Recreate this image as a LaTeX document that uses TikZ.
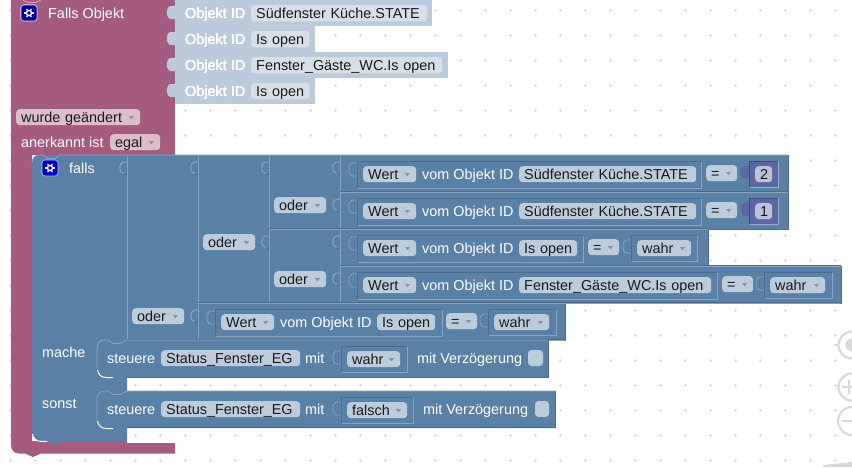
\documentclass[tikz,border=0pt]{standalone}
\usepackage{fontspec}
\setmainfont{Liberation Sans}
\definecolor{purp}{HTML}{A55B80}
\definecolor{purpl}{HTML}{DBBDCC}
\definecolor{blu}{HTML}{5B80A5}
\definecolor{blul}{HTML}{BDCCDB}
\definecolor{blue2}{HTML}{87A3BF}
\definecolor{bluD}{HTML}{4B6B8F}
\definecolor{indi}{HTML}{5B67A5}
\definecolor{indil}{HTML}{BDC2DB}
\definecolor{idcol}{HTML}{BCCBDB}
\definecolor{gridc}{HTML}{DADADA}
\definecolor{ctl}{HTML}{D9D9D9}
\newcounter{nn}
\tikzset{
  fieldbox/.style={fill=blul,rounded corners=3.5pt,inner xsep=5pt,inner ysep=0pt,anchor=north west,
    text=black!90,align=left,text height=13pt,text depth=3pt},
  lab/.style={text=white,inner sep=0pt,anchor=base west},
}
% field: x1,y1,x2,text,fill
\newcommand{\fld}[5]{\stepcounter{nn}\pgfmathsetmacro\fw{(#3)-(#1)-10}%
  \node[fieldbox,fill=#5,text width=\fw pt] (f\thenn) at (#1,#2) {\mbox{#4}};}
\newcommand{\ddf}[5][blul]{\fld{#2}{#3}{#4}{#5}{#1}%
  \pgfmathsetmacro\tx{(#4)-8.5}\pgfmathsetmacro\ty{(#3)+7}%
  \fill[gray!75!#1] (\tx-2.7,\ty) -- (\tx+2.7,\ty) -- (\tx,\ty+3.2) -- cycle;}
\newcommand{\lbl}[3]{\stepcounter{nn}\node[lab] (t\thenn) at (#1,#2) {#3};}
% socket outline tab: right x, top y
\newcommand{\socket}[2]{\draw[draw=blue2,line width=1pt] (#1,#2) -- (#1-3,#2) .. controls (#1-8.5,#2) and (#1-8.5,#2+11) .. (#1-4,#2+11) -- (#1-3,#2+11);
  \draw[draw=bluD,line width=.7pt] (#1,#2+12) -- (#1-3,#2+12);}
% filled tab of a child
\newcommand{\tabf}[3]{\fill[#3] (#1+.5,#2) -- (#1-4,#2) .. controls (#1-9.5,#2) and (#1-9.5,#2+13) .. (#1-4,#2+13) -- (#1+.5,#2+13) -- cycle;}
% inner block with frame
\newcommand{\inner}[5][blu]{\fill[#1] (#2,#3) rectangle (#4,#5);
  \draw[bluD,line width=.8pt] (#2,#5) -- (#2,#3) -- (#4,#3);
  \draw[blue2,line width=.9pt] (#2+.8,#5) -- (#4,#5) -- (#4,#3+.5);}
\newcommand{\wertrow}[8]{%
  \pgfmathsetmacro\xa{#1}\pgfmathsetmacro\ya{#2}%
  \tabf{\xa}{\ya+8}{blu}%
  \draw[blue2,line width=.8pt] (\xa,\ya+8) -- (\xa-4,\ya+8) .. controls (\xa-9.5,\ya+8) and (\xa-9.5,\ya+21) .. (\xa-4,\ya+21) -- (\xa,\ya+21);
  \inner{\xa}{\ya+6}{#5}{\ya+33}%
  \ddf{\xa+6}{\ya+11}{\xa+59}{Wert}%
  \lbl{\xa+65}{\ya+24}{vom Objekt ID}%
  \pgfmathsetmacro\xb{\xa+162}%
  \fld{\xb}{\ya+11}{#3}{#4}{blul}%
  \pgfmathsetmacro\xc{#6+31}%
  \ddf{#6}{\ya+10}{\xc}{=}%
}
\newcommand{\boolv}[5]{%
  \pgfmathsetmacro\xq{#1}\pgfmathsetmacro\yq{#2}%
  \tabf{\xq}{\yq+5}{blu}%
  \draw[blue2,line width=.8pt] (\xq,\yq+5) -- (\xq-4,\yq+5) .. controls (\xq-9.5,\yq+5) and (\xq-9.5,\yq+18) .. (\xq-4,\yq+18) -- (\xq,\yq+18);
  \inner{\xq}{\yq}{#3}{\yq+26}%
  \ddf{\xq+6}{\yq+5}{#4}{#5}%
}
\newcommand{\numv}[3]{%
  \tabf{749}{#1+5}{indi}%
  \fill[indi] (749,#1) rectangle (778,#1+26);
  \draw[indi!70!black,line width=.8pt] (749,#1+26) -- (749,#1) -- (778,#1);
  \draw[indil!70!indi,line width=.9pt] (749.8,#1+26) -- (778,#1+26) -- (778,#1);
  \stepcounter{nn}\node[fieldbox,fill=#3,text width=7pt,anchor=north west] (n\thenn) at (755,#1+5) {\mbox{#2}};
}
\begin{document}
\begin{tikzpicture}[x=1pt,y=-1pt,font=\fontsize{14.4}{16}\selectfont]
\clip (0,0) rectangle (852,467);
\fill[white] (0,0) rectangle (852,467);
% grid
\foreach \gx in {10,35,...,860} \foreach \gy in {10,35,...,460}
  \draw[gridc,line width=.5pt] (\gx-1.5,\gy) -- (\gx+1.5,\gy) (\gx,\gy-1.5) -- (\gx,\gy+1.5);
% zoom controls & trash
\begin{scope}[draw=ctl,line width=2.2pt]
  \draw[fill=white] (852,345) circle (13.5);
  \fill[ctl] (852,345) circle (6.5);
  \draw (838,345) -- (834,345);
  \draw[fill=white] (852,387) circle (13.5);
  \draw (842,387) -- (852,387) (849,380) -- (849,394);
  \draw[fill=white] (852,421) circle (14);
  \draw (842,421) -- (852,421);
\end{scope}
\fill[ctl] (823,465) -- (852,462) -- (852,467) -- (823,467) -- cycle;
% purple block
\fill[purp] (11,0) -- (175,0) -- (175,155) -- (32,155) -- (32,441) -- (127,441) -- (127,443) -- (175,443) -- (175,453.5) -- (41,453.5) -- (33,457) -- (25,453.5) -- (19,453.5) .. controls (14,453.5) and (11,450) .. (11,445) -- cycle;
\draw[purp!55!white,line width=.7pt] (23,0) -- (28,2.5) -- (36,2.5) -- (41,0);
% id blocks
\fill[idcol] (175,0) rectangle (432,26);
\fill[idcol] (175,26) rectangle (315,52);
\fill[idcol] (175,52) rectangle (448,78);
\fill[idcol] (175,78) rectangle (315,104);
\foreach \ty in {6,32,58,84} \tabf{175}{\ty}{idcol}
\lbl{185}{18}{Objekt ID}\fld{251}{5}{427}{Südfenster Küche.STATE}{blul!60!white}
\lbl{185}{44}{Objekt ID}\fld{251}{31}{309}{Is open}{blul!60!white}
\lbl{185}{70}{Objekt ID}\fld{251}{57}{442}{Fenster\_Gäste\_WC.Is open}{blul!60!white}
\lbl{185}{96}{Objekt ID}\fld{251}{83}{309}{Is open}{blul!60!white}
% purple contents
\fill[blue!55!black!80!blue,rounded corners=3pt,draw=purpl,line width=.6pt] (21,5) rectangle (37,21);
\draw[white,line width=1.4pt] (29,13) circle (2.6);
\foreach \a in {0,60,...,300} \draw[white,line width=1.2pt] (29,13) ++(\a:3.2) -- ++(\a:1.6);
\lbl{48}{18}{Falls Objekt}
\ddf[purpl]{16}{109}{140}{wurde geändert}
\lbl{21}{147}{anerkannt ist}
\ddf[purpl]{110}{134}{160}{egal}
% falls block
\fill[blu] (40,155) -- (788,155) -- (788,229) -- (708,229) -- (708,266) -- (841,266) -- (841,303) -- (565.5,303) -- (565.5,340) -- (548,340) -- (548,377) -- (127,377) -- (127,391) -- (555,391) -- (555,427.5) -- (127,427.5) -- (127,441) -- (62,441) -- (55,445) -- (48,441) -- (40,441) .. controls (35,441) and (32,438) .. (32,433) -- (32,163) .. controls (32,158) and (35,155) .. (40,155) -- cycle;
\draw[blue2,line width=.8pt] (32,163) .. controls (32,158) and (35,155) .. (40,155) -- (43,155) -- (48,158.5) -- (55,158.5) -- (60,155) -- (788,155);
\draw[bluD,line width=.8pt] (788,155) -- (788,229) -- (708,229) -- (708,266) -- (841,266) -- (841,303) -- (565.5,303) -- (565.5,340) -- (548,340) -- (548,377) -- (127,377);
\draw[bluD,line width=.8pt] (127,391) -- (555,391) -- (555,427.5) -- (127,427.5);
\draw[white,line width=1pt] (32.6,434) .. controls (33,438) and (36,441.4) .. (41,441.4) -- (47,441.4);
% internal separators
\foreach \lx/\ya/\yb in {127/155/340,198/155/340,269/155/303,340/155/303}
  \draw[blue2,line width=.9pt] (\lx,\ya) -- (\lx,\yb);
\foreach \xa/\xb/\yy in {340/788/192,269/708/229,340/841/266,198/841/303,127/565/340}
  {\draw[bluD,line width=.7pt] (\xa,\yy-.8) -- (\xb,\yy-.8);
   \draw[blue2,line width=.7pt] (\xa,\yy) -- (\xb,\yy);}
% sockets
\socket{127}{162}\socket{198}{162}\socket{269}{162}\socket{340}{162}
\socket{340}{199}\socket{269}{236}\socket{340}{236}\socket{340}{273}\socket{198}{310}
% falls
\fill[blue!75!black!85!blue,rounded corners=3pt,draw=blul,line width=.6pt] (42,160) rectangle (58,176);
\draw[white,line width=1.4pt] (50,168) circle (2.6);
\foreach \a in {0,60,...,300} \draw[white,line width=1.2pt] (50,168) ++(\a:3.2) -- ++(\a:1.6);
\lbl{69}{173}{falls}
\ddf{274}{197}{326}{oder}
\ddf{203}{234}{255}{oder}
\ddf{274}{271}{326}{oder}
\ddf{132}{308}{184}{oder}
% rows
\wertrow{357}{155}{696}{Südfenster Küche.STATE}{701}{706}{749}{778}
\numv{161}{2}{indil}
\wertrow{357}{192}{696}{Südfenster Küche.STATE}{701}{706}{749}{778}
\numv{198}{1}{indil}
\wertrow{357}{229}{577}{Is open}{583}{588}{631}{697}
\boolv{631}{235}{697}{691}{wahr}
\wertrow{357}{266}{711}{Fenster\_Gäste\_WC.Is open}{717}{722}{764}{832}
\boolv{764}{272}{832}{825}{wahr}
\wertrow{215}{303}{435}{Is open}{442}{446}{488}{556}
\boolv{488}{309}{556}{549}{wahr}
% statements
\foreach \sy/\se in {340/548,391/555}{
  \fill[blu] (97,\sy+8) .. controls (97,\sy+3) and (100,\sy) .. (105,\sy) -- (\se,\sy) -- (\se,\sy+37) -- (127,\sy+37) -- (120,\sy+41) -- (113,\sy+37) -- (105,\sy+37) .. controls (100,\sy+37) and (97,\sy+34) .. (97,\sy+29) -- cycle;
  \draw[blue2,line width=.8pt] (97,\sy+29) -- (97,\sy+8) .. controls (97,\sy+3) and (100,\sy) .. (105,\sy) -- (108,\sy) -- (113,\sy+3.5) -- (120,\sy+3.5) -- (127,\sy) -- (\se,\sy);
  \draw[white,line width=1pt] (97.6,\sy+30) .. controls (98,\sy+34) and (101,\sy+37.5) .. (106,\sy+37.5) -- (113,\sy+37.5);
}
\draw[bluD,line width=.8pt] (548,340) -- (548,377) -- (127,377) (555,391) -- (555,427.5) -- (127,427.5);
\lbl{42}{357}{mache}\lbl{42}{408}{sonst}
\lbl{107}{363}{steuere}\fld{161}{350}{300}{Status\_Fenster\_EG}{blul}\lbl{305}{363}{mit}
\boolv{341}{346}{407}{400}{wahr}
\lbl{417}{363}{mit Verzögerung}
\fill[blul,rounded corners=3.5pt] (528,350) rectangle (543,366);
\lbl{107}{414}{steuere}\fld{161}{401}{300}{Status\_Fenster\_EG}{blul}\lbl{305}{414}{mit}
\boolv{341}{397}{413}{407}{falsch}
\lbl{423}{414}{mit Verzögerung}
\fill[blul,rounded corners=3.5pt] (535,401) rectangle (549,417);
\end{tikzpicture}
\end{document}
